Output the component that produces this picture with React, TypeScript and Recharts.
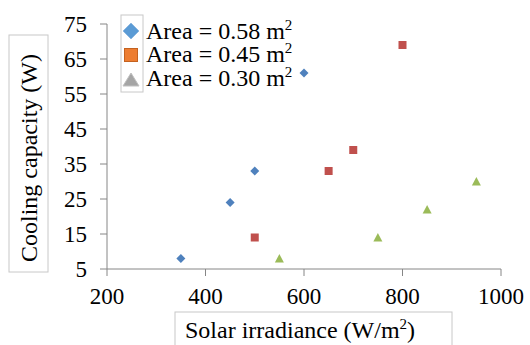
import React from "react";
import { ScatterChart, Scatter, XAxis, YAxis, Customized } from "recharts";

const area058 = [
  { x: 350, y: 8 },
  { x: 450, y: 24 },
  { x: 500, y: 33 },
  { x: 600, y: 61 },
];
const area045 = [
  { x: 500, y: 14 },
  { x: 650, y: 33 },
  { x: 700, y: 39 },
  { x: 800, y: 69 },
];
const area030 = [
  { x: 550, y: 8 },
  { x: 750, y: 14 },
  { x: 850, y: 22 },
  { x: 950, y: 30 },
];
const xTicks = [200, 400, 600, 800, 1000];
const yTicks = [5, 15, 25, 35, 45, 55, 65, 75];
const legendLabels = ["Area = 0.58 m", "Area = 0.45 m", "Area = 0.30 m"];
const xTitle = "Solar irradiance (W/m";
const yTitle = "Cooling capacity (W)";

const FONT = "Liberation Serif";
const AXIS = "#868686";

const Diamond = (props: any) => {
  const { cx, cy } = props;
  const r = 4.5;
  return <path d={`M${cx},${cy - r}L${cx + r},${cy}L${cx},${cy + r}L${cx - r},${cy}Z`} fill="#4F81BD" />;
};
const Square = (props: any) => {
  const { cx, cy } = props;
  return <rect x={cx - 4} y={cy - 4} width={8} height={8} fill="#C0504D" />;
};
const Triangle = (props: any) => {
  const { cx, cy } = props;
  return <path d={`M${cx},${cy - 4.5}L${cx + 4.5},${cy + 4}L${cx - 4.5},${cy + 4}Z`} fill="#9BBB59" />;
};

const Overlay = () => {
  const rows = [39, 62, 86];
  return (
    <g style={{ fontFamily: FONT }}>
      <rect x={9} y={35} width={39} height={237} fill="none" stroke="#c8c8c8" strokeWidth={1} />
      <text
        x={0}
        y={0}
        transform="translate(37,158) rotate(-90)"
        textAnchor="middle"
        style={{ fontFamily: FONT }}
        fontSize={24}
        fill="#000"
      >
        {yTitle}
      </text>
      <rect x={175} y={312} width={277} height={40} fill="none" stroke="#c8c8c8" strokeWidth={1} />
      <text x={185} y={338} style={{ fontFamily: FONT }} fontSize={24} fill="#000">
        {xTitle}
        <tspan dy={-9} fontSize={15}>2</tspan>
        <tspan dy={9}>)</tspan>
      </text>
      <rect x={121} y={15} width={22} height={77} fill="#fff" stroke="#c8c8c8" strokeWidth={1} />
      <path d="M131,23L139,31L131,39L123,31Z" fill="#5B9BD5" stroke="#8FB8E0" strokeWidth={1} />
      <rect x={124.5} y={48.5} width={13} height={13} fill="#ED7D31" stroke="#C46220" strokeWidth={1} />
      <path d="M131,73L139,86L123,86Z" fill="#A5A5A5" stroke="#C0C0C0" strokeWidth={1} />
      {legendLabels.map((l, i) => (
        <text key={l} x={146} y={rows[i]} style={{ fontFamily: FONT }} fontSize={24} fill="#000">
          {l}
          <tspan dy={-9} fontSize={15}>2</tspan>
        </text>
      ))}
    </g>
  );
};

export default function App() {
  return (
    <div style={{ position: "absolute", left: 0, top: 0, background: "#fff", fontFamily: FONT }}>
      <ScatterChart width={530} height={345} margin={{ top: 24, right: 29, bottom: 0, left: 0 }} style={{ fontFamily: FONT }}>
        <XAxis
          type="number"
          dataKey="x"
          domain={[200, 1000]}
          ticks={xTicks}
          interval={0}
          height={76}
          tickSize={7}
          tickMargin={12}
          axisLine={{ stroke: AXIS }}
          tickLine={{ stroke: AXIS }}
          tick={{ fill: "#000", fontFamily: FONT, fontSize: 23 }}
        />
        <YAxis
          type="number"
          dataKey="y"
          domain={[5, 75]}
          ticks={yTicks}
          interval={0}
          width={107}
          tickSize={7}
          tickMargin={13}
          axisLine={{ stroke: AXIS }}
          tickLine={{ stroke: AXIS }}
          tick={{ fill: "#000", fontFamily: FONT, fontSize: 23 }}
        />
        <Scatter data={area058} shape={Diamond} isAnimationActive={false} />
        <Scatter data={area045} shape={Square} isAnimationActive={false} />
        <Scatter data={area030} shape={Triangle} isAnimationActive={false} />
        <Customized component={Overlay} />
      </ScatterChart>
    </div>
  );
}
